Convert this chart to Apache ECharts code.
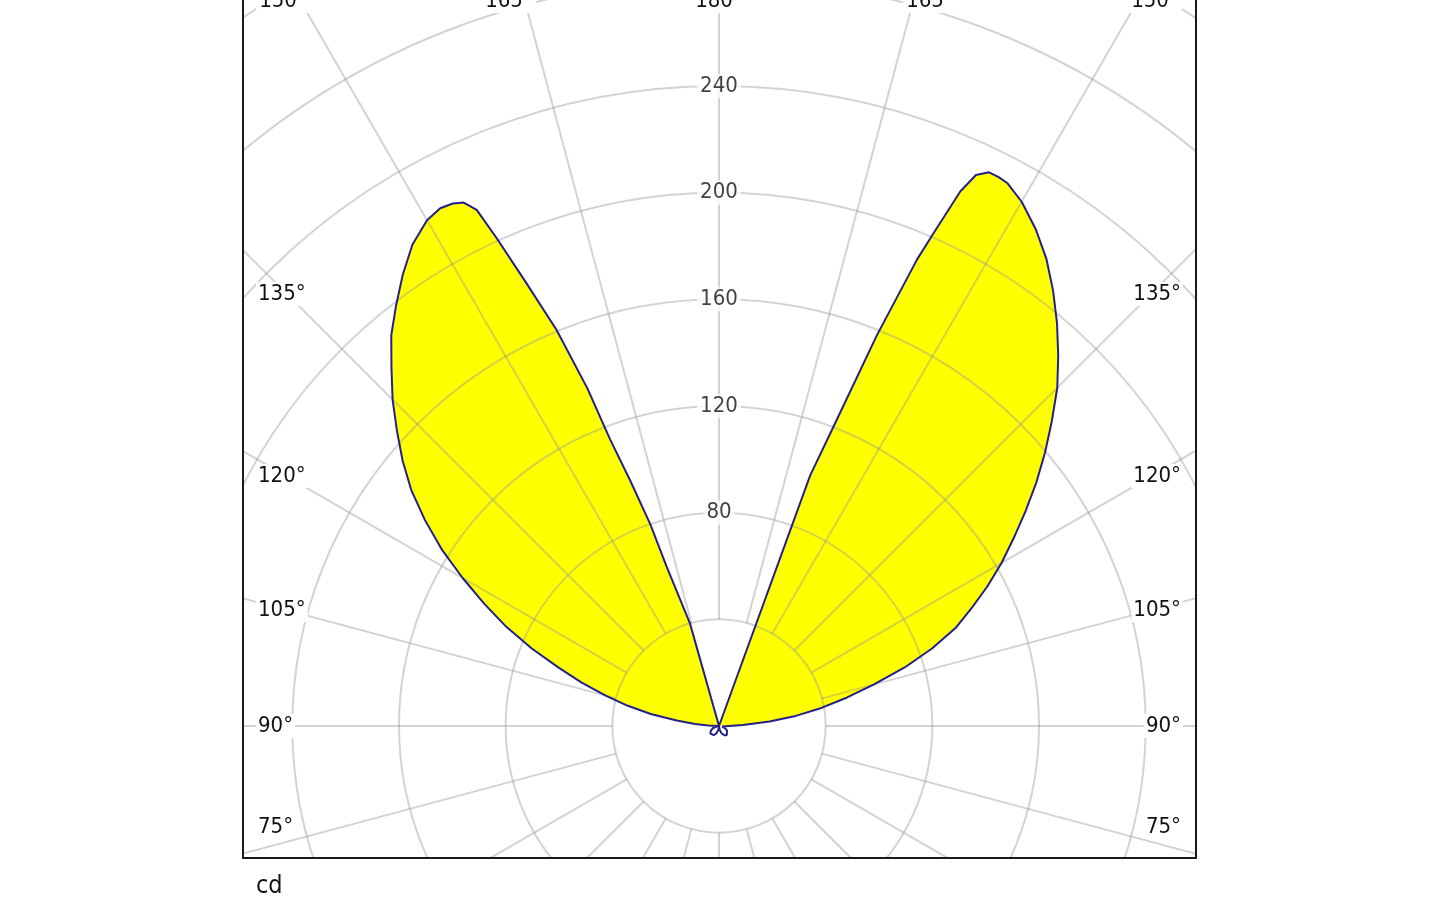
<!DOCTYPE html>
<html>
<head>
<meta charset="utf-8">
<script src="https://cdn.jsdelivr.net/npm/echarts@6/dist/echarts.min.js"></script>
<style>
  html, body { margin: 0; padding: 0; background: #fff; }
  #chart { width: 1440px; height: 900px; }
</style>
</head>
<body>
<div id="chart"></div>
<script>
// luminous intensity (cd) against gamma angle (deg from nadir)
// C0 plane = right half, C180 plane = left half
const c0Gamma = [0, 10, 20, 30, 40, 50, 60, 70, 80, 90, 92.5, 95, 97.5, 100, 102.5, 105, 107.5, 110, 112.5, 115, 117.5, 120, 122.5, 125, 127.5, 130, 132.5, 135, 137.5, 140, 142.5, 145, 147.5, 150, 152, 153, 154, 155, 155.7, 156.5, 157, 158, 159, 160, 161, 165, 170, 175, 180];
const c0Cd    = [0, 1.5, 3, 4, 4.5, 4.3, 3.5, 2.5, 1.2, 0.5, 9, 19, 29, 39, 49, 60, 73, 85, 96, 104.5, 113.5, 122.4, 131, 140.3, 150, 159.6, 169.3, 179.4, 188.3, 197.2, 205.8, 214, 221, 227, 230.5, 231, 231, 228, 220, 201, 190, 158, 122, 100, 0, 0, 0, 0, 0];

const c180Gamma = [0, 10, 20, 30, 40, 50, 60, 70, 80, 90, 92.5, 95, 97.5, 100, 102.5, 105, 107.5, 110, 112.5, 115, 117.5, 120, 122.5, 125, 127.5, 130, 132.5, 135, 137.5, 140, 142.5, 145, 147.5, 150, 151.7, 153, 154, 154.85, 155.5, 156.5, 157.7, 158.7, 159.2, 160.1, 161.2, 161.8, 164.2, 165.5, 170, 175, 180];
const c180Cd    = [0, 1.5, 3, 4, 4.5, 4.3, 3.5, 2.5, 1.2, 0.5, 4, 9, 16, 26, 35, 44, 54, 64, 76, 88, 99.2, 111, 123.3, 134.6, 145.5, 154.9, 163.8, 173.1, 181.8, 191.2, 198.9, 206.7, 214, 219, 220.5, 219.9, 218.4, 213.8, 201, 181, 160.5, 136, 115, 98, 80, 63, 40, 0, 0, 0, 0];

const radiusTicks = [80, 120, 160, 200, 240];
const sideAngleLabels = [135, 120, 105, 90, 75];
const topAngleLabels = [150, 165, 180, 165, 150];
const unitLabel = 'cd';

// layout
const CX = 719, CY = 726;
const R_MAX = 320;
const PX = 640 / 240;           // px per cd
const BOX = { left: 243, right: 1196, bottom: 858 };
const FONT = "'DejaVu Sans Condensed', 'DejaVu Sans', sans-serif";
const TXT = '#111';
const GRID = 'rgba(150,150,150,0.42)';
const sideLabelY = [294, 476, 610, 726, 827];
const topLabelX = [283, 509, 719, 930, 1155];

// full curve: angle axis runs 0..360 counter-clockwise from nadir
const curve = [];
c0Gamma.forEach((g, i) => curve.push([c0Cd[i], g]));
for (let i = c180Gamma.length - 1; i >= 0; i--) curve.push([c180Cd[i], 360 - c180Gamma[i]]);
const lobes = curve.filter(p => p[1] >= 90 && p[1] <= 270);

const chart = echarts.init(document.getElementById('chart'));

const graphics = [
  { type: 'rect', z: 50, shape: { x: 0, y: 0, width: BOX.left - 1, height: 900 }, style: { fill: '#fff' } },
  { type: 'rect', z: 50, shape: { x: BOX.right + 1, y: 0, width: 1440 - BOX.right, height: 900 }, style: { fill: '#fff' } },
  { type: 'rect', z: 50, shape: { x: 0, y: BOX.bottom + 1, width: 1440, height: 900 - BOX.bottom }, style: { fill: '#fff' } },
  { type: 'rect', z: 60, shape: { x: BOX.left, y: -10, width: BOX.right - BOX.left, height: BOX.bottom + 10 },
    style: { fill: 'none', stroke: '#1a1a1a', lineWidth: 2 } },
  { type: 'text', z: 70, x: 256, y: 886,
    style: { text: unitLabel, font: '25px ' + FONT, fill: TXT, align: 'left', verticalAlign: 'middle' } }
];
sideAngleLabels.forEach((a, i) => {
  graphics.push({ type: 'text', z: 70, x: 256, y: sideLabelY[i],
    style: { text: a + '°', font: '22px ' + FONT, fill: TXT, align: 'left', verticalAlign: 'middle',
             backgroundColor: '#fff', padding: [1, 2] } });
  graphics.push({ type: 'text', z: 70, x: 1183, y: sideLabelY[i],
    style: { text: a + '°', font: '22px ' + FONT, fill: TXT, align: 'right', verticalAlign: 'middle',
             backgroundColor: '#fff', padding: [1, 2] } });
});
topAngleLabels.forEach((a, i) => {
  graphics.push({ type: 'text', z: 70, x: topLabelX[i], y: 1,
    style: { text: a + '°', font: '22px ' + FONT, fill: TXT, align: 'center', verticalAlign: 'middle',
             backgroundColor: '#fff', padding: [1, 3] } });
});

chart.setOption({
  animation: false,
  backgroundColor: '#fff',
  polar: [
    { center: [CX, CY], radius: [40 * PX, R_MAX * PX] },   // spokes start at the 40 cd ring
    { center: [CX, CY], radius: [0, R_MAX * PX] }
  ],
  angleAxis: [
    {
      polarIndex: 0, type: 'value', min: 0, max: 360, interval: 15,
      startAngle: 270, clockwise: false, z: 3,
      axisLine: { show: false }, axisTick: { show: false }, axisLabel: { show: false },
      splitLine: { show: true, lineStyle: { color: GRID, width: 2 } }
    },
    {
      polarIndex: 1, type: 'value', min: 0, max: 360, interval: 15,
      startAngle: 270, clockwise: false, z: 3,
      axisLine: { show: false }, axisTick: { show: false }, axisLabel: { show: false },
      splitLine: { show: false }
    }
  ],
  radiusAxis: [
    { polarIndex: 0, type: 'value', min: 0, max: 1, show: false },
    {
      polarIndex: 1, type: 'value', min: 0, max: R_MAX, interval: 40, z: 3,
      axisLine: { show: false }, axisTick: { show: false }, axisLabel: { show: false },
      splitLine: { show: true, lineStyle: { color: GRID, width: 2 } }
    }
  ],
  series: [
    {
      type: 'line', coordinateSystem: 'polar', polarIndex: 1, z: 1,
      data: lobes, symbol: 'none', silent: true,
      lineStyle: { width: 0, opacity: 0 },
      areaStyle: { color: '#ffff00', opacity: 1 }
    },
    {
      type: 'line', coordinateSystem: 'polar', polarIndex: 1, z: 5,
      data: curve, symbol: 'none', silent: true,
      lineStyle: { color: '#22208a', width: 2 }
    },
    {
      type: 'scatter', coordinateSystem: 'polar', polarIndex: 1, z: 6,
      data: radiusTicks.map(r => [r, 180]), symbolSize: 0, silent: true,
      label: {
        show: true, position: 'inside', formatter: p => p.value[0],
        fontFamily: FONT, fontSize: 22, color: TXT,
        backgroundColor: '#fff', padding: [1, 3]
      }
    }
  ],
  graphic: { elements: graphics }
});
</script>
</body>
</html>
